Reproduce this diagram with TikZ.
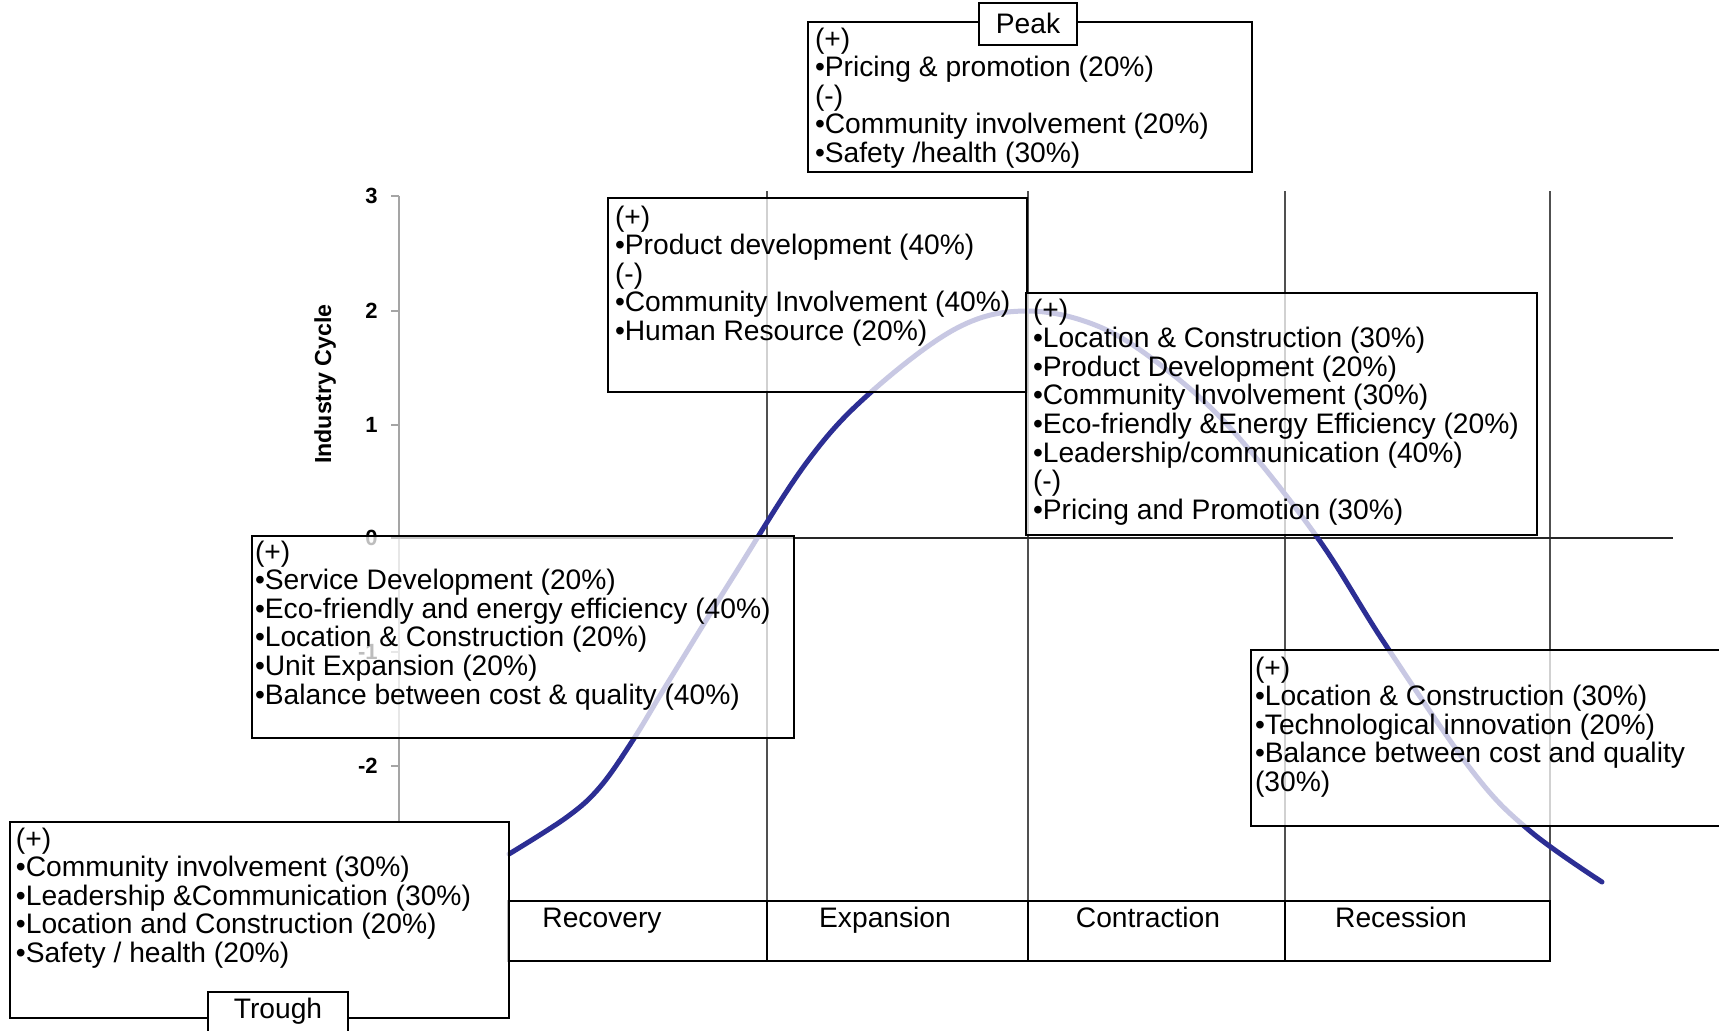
\documentclass[tikz,border=0pt]{standalone}
\usepackage{fontspec}
\setmainfont{Liberation Sans}
\definecolor{curveblue}{RGB}{44,46,148}
\definecolor{gridgray}{RGB}{80,80,80}
\definecolor{axisgray}{RGB}{165,165,165}
\begin{document}
\begin{tikzpicture}[x=0.5pt,y=-0.5pt,
  panel/.style={draw=black, line width=1.25pt, fill=white, fill opacity=0.74, text opacity=1,
                inner sep=0pt, outer sep=0pt, anchor=north west},
  tag/.style={draw=black, line width=1.25pt, fill=white, inner sep=0pt, outer sep=0pt, anchor=north west},
  paneltext/.style={anchor=north west, inner sep=0pt, outer sep=0pt, align=left,
                    font=\fontsize{14.1}{14.3}\selectfont},
  plain/.style={inner sep=0pt, font=\fontsize{14.1}{14.3}\selectfont},
  cell/.style={draw=black, line width=1pt, inner sep=0pt, outer sep=0pt, anchor=north west,
               minimum height=30pt},
  ticklabel/.style={inner sep=0pt, anchor=east, font=\bfseries\fontsize{11}{12}\selectfont},
  gridline/.style={draw=gridgray, line width=0.75pt},
]
\clip (0,0) rectangle (1719,1030);
\fill[white] (0,0) rectangle (1719,1030);

% vertical grid lines between phases
\foreach \gx in {767,1028,1285,1550} \draw[gridline] (\gx,191) -- (\gx,901);

% value axis with ticks and labels
\draw[axisgray, line width=0.75pt] (399,196) -- (399,822);
\foreach \v/\gy [count=\k] in {3/196,2/311,1/425,0/538,-1/652,-2/766} {
  \draw[axisgray, line width=0.75pt] (391,\gy) -- (399,\gy);
  \node[ticklabel] (tick\k) at (378,\gy) {\v};
}
\node[rotate=90, inner sep=0pt, font=\bfseries\fontsize{11.6}{13}\selectfont] (ylab) at (325,384) {Industry Cycle};

% zero line
\draw[black!85, line width=0.7pt] (391,538) -- (1673,538);

% industry cycle curve
\draw[curveblue, line width=2.5pt, line cap=round] plot[smooth, tension=0.6] coordinates {
  (509,854) (567,817) (600,787) (633,740) (667,684) (733,577) (807,462) (870,393)
  (957,328) (1027,311) (1100,327) (1167,370) (1233,431) (1317,537) (1385,644)
  (1473,772) (1530,831) (1602,882)};

% phase table
\node[cell, minimum width=129.5pt] (cellrec) at (508,901) {};
\node[cell, minimum width=130.5pt] (cellexp) at (767,901) {};
\node[cell, minimum width=128.5pt] (cellcon) at (1028,901) {};
\node[cell, minimum width=132.5pt] (cellres) at (1285,901) {};
\node[plain, anchor=base] (lblrec) at (602,927) {Recovery};
\node[plain, anchor=base] (lblexp) at (885,927) {Expansion};
\node[plain, anchor=base] (lblcon) at (1148,927) {Contraction};
\node[plain, anchor=base] (lblres) at (1401,927) {Recession};

% peak
\node[panel, minimum width=222pt, minimum height=75pt] (peak) at (808,22) {};
\node[paneltext] (peaktxt) at (815,22) {\rule{0pt}{13pt}(+)\\•Pricing \& promotion (20\%)\\(-)\\•Community involvement (20\%)\\•Safety /health (30\%)};
\node[tag, minimum width=49pt, minimum height=21pt] (peaktag) at (979,3) {};
\node[plain, anchor=base] (peaklbl) at (1028,33) {Peak};

% expansion
\node[panel, minimum width=209.5pt, minimum height=97pt] (expbox) at (608,198) {};
\node[paneltext] (exptxt) at (615,198) {\rule{0pt}{14pt}(+)\\•Product development (40\%)\\(-)\\•Community Involvement (40\%)\\•Human Resource (20\%)};

% contraction
\node[panel, minimum width=255.5pt, minimum height=121pt] (conbox) at (1026,293) {};
\node[paneltext] (contxt) at (1033,293) {\rule{0pt}{13pt}(+)\\•Location \& Construction (30\%)\\•Product Development (20\%)\\•Community Involvement (30\%)\\•Eco-friendly \&Energy Efficiency (20\%)\\•Leadership/communication (40\%)\\(-)\\•Pricing and Promotion (30\%)};

% recovery
\node[panel, minimum width=271pt, minimum height=101pt] (recbox) at (252,536) {};
\node[paneltext] (rectxt) at (255,536) {\rule{0pt}{12.5pt}(+)\\•Service Development (20\%)\\•Eco-friendly and energy efficiency (40\%)\\•Location \& Construction (20\%)\\•Unit Expansion (20\%)\\•Balance between cost \& quality (40\%)};

% recession
\node[panel, minimum width=260pt, minimum height=88pt] (resbox) at (1251,650) {};
\node[paneltext] (restxt) at (1255,650) {\rule{0pt}{13.5pt}(+)\\•Location \& Construction (30\%)\\•Technological innovation (20\%)\\•Balance between cost and quality\\(30\%)};

% trough
\node[panel, minimum width=249.5pt, minimum height=98pt] (trbox) at (10,822) {};
\node[paneltext] (trtxt) at (16,822) {\rule{0pt}{13pt}(+)\\•Community involvement (30\%)\\•Leadership \&Communication (30\%)\\•Location and Construction (20\%)\\•Safety / health (20\%)};
\node[tag, minimum width=70pt, minimum height=30pt] (trtag) at (208,992) {};
\node[plain, anchor=base] (trlbl) at (278,1018) {Trough};
\end{tikzpicture}
\end{document}
